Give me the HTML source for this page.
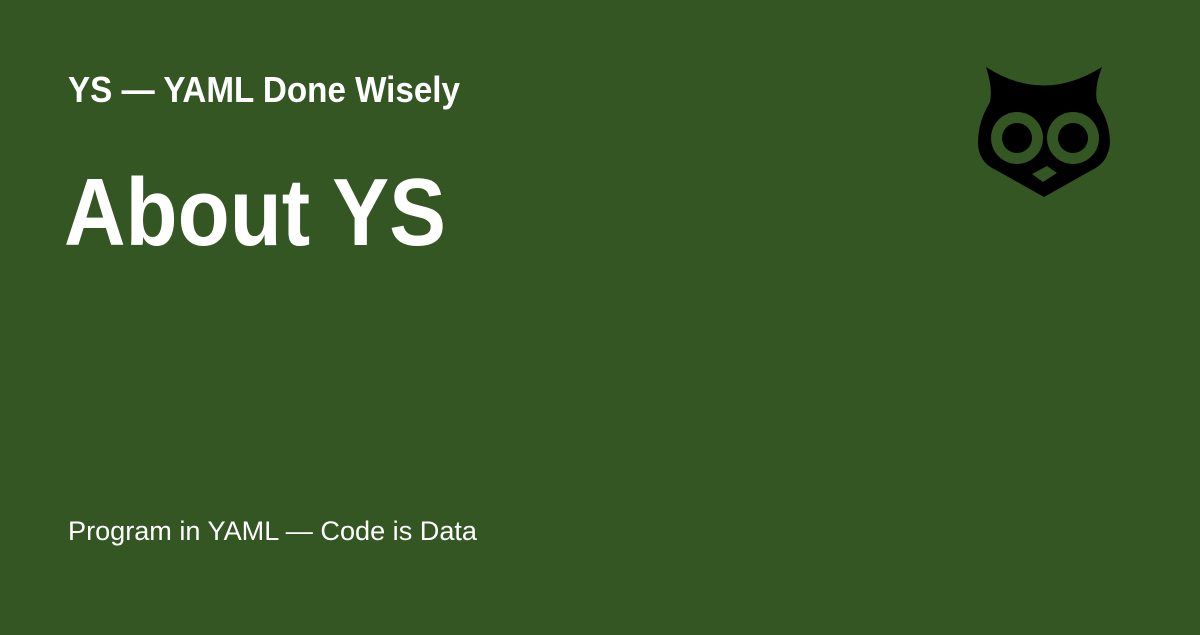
<!DOCTYPE html>
<html><head><meta charset="utf-8"><style>
html,body{margin:0;padding:0;}
body{width:1200px;height:630px;background:#335623;overflow:hidden;}
svg text{font-family:"Liberation Sans",sans-serif;fill:#fff;}
</style></head><body>
<svg width="1200" height="630" viewBox="0 0 1200 630" xmlns="http://www.w3.org/2000/svg">
<rect x="0" y="0" width="1200" height="630" fill="#335623"/>
<text x="68" y="102" font-size="36" font-weight="bold" textLength="392" lengthAdjust="spacingAndGlyphs">YS — YAML Done Wisely</text>
<text x="64" y="245" font-size="96" font-weight="bold" textLength="382" lengthAdjust="spacingAndGlyphs">About YS</text>
<text x="68" y="540" font-size="27" textLength="409" lengthAdjust="spacingAndGlyphs">Program in YAML — Code is Data</text>
<g>
<path d="M986,67 Q1043,104 1102,67 Q1094,88 1097,102 Q1110,122 1110,142 Q1109,162 1092,170 L1044,197 L996,170 Q978,162 978,142 Q978,122 990,102 Q993,88 986,67 Z" fill="#000"/>
<circle cx="1017" cy="138" r="26" fill="#335623"/>
<circle cx="1017" cy="138" r="15" fill="#000"/>
<circle cx="1073" cy="138" r="26" fill="#335623"/>
<circle cx="1073" cy="138" r="15" fill="#000"/>
<path d="M1032,174 L1047,166 L1057,173 L1043,182 Z" fill="#335623"/>
</g>
</svg>
</body></html>
